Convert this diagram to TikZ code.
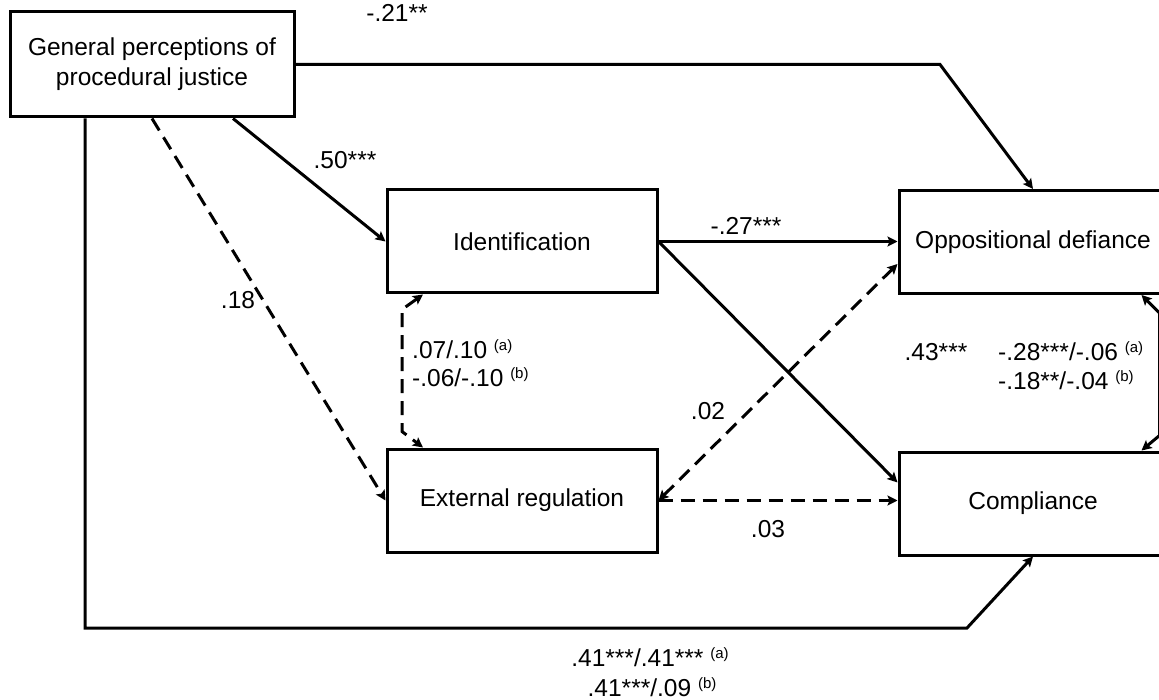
\documentclass[tikz,border=0pt]{standalone}
\usepackage{fontspec}
\setmainfont{Liberation Sans}
\usepackage{tikz}
\usetikzlibrary{arrows.meta}

\newcommand{\nt}[1]{\space\raisebox{8pt}{\fontsize{15}{15}\selectfont(#1)}}

\begin{document}
\begin{tikzpicture}[x=1pt,y=-1pt,
  >={Stealth[length=10pt,width=10pt,inset=2pt]},
  box/.style={draw,line width=3pt,minimum width=270pt,minimum height=103pt,
    inner sep=0pt,align=center,font=\fontsize{24.5}{30}\selectfont},
  arr/.style={line width=3pt,->},
  darr/.style={arr,dash pattern=on 14pt off 8pt},
  lab/.style={font=\fontsize{24.5}{30}\selectfont,inner sep=0pt,anchor=base}]

  \useasboundingbox (0,0) rectangle (1159,700);

  \node[box,minimum width=284pt,minimum height=105pt] (gp) at (152,64.5)
    {General perceptions of\\procedural justice};
  \node[box] (ident) at (522,241.5) {Identification};
  \node[box] (ext) at (522,500.5) {External regulation};
  \node[box,minimum width=268pt] (opp) at (1033,242) {Oppositional defiance};
  \node[box,minimum width=268pt] (comp) at (1033,503.5) {Compliance};

  \coordinate (topbend) at (940,64.5);
  \coordinate (botbend) at (967,628);

  % direct paths
  \draw[arr] (gp.east) -- (topbend) -- (opp.north);
  \draw[arr] ([xshift=-67pt]gp.south) |- (botbend) -- (comp.south);
  \draw[arr] ([xshift=81pt]gp.south) -- (ident.west);
  \draw[darr] (gp.south) -- (ext.west);

  % mediators
  \draw[arr] (ident.east) -- (ident.east -| opp.west);
  \draw[arr] (ident.east) -- ([yshift=21pt]comp.west);
  \draw[darr,<->] (ext.east) -- ([yshift=-22pt]opp.west);
  \draw[darr] (ext.east) -- (ext.east -| comp.west);

  % covariances
  \draw[darr,<->] ([xshift=-99pt]ident.south) -- ++(-21,15)
    -- ([xshift=-120pt,yshift=16pt]ext.north) -- ([xshift=-99pt]ext.north);
  \draw[arr,<->] ([xshift=-27pt]opp.south east) -- ++(18,18)
    -- ([xshift=-9pt,yshift=15pt]comp.north east) -- ([xshift=-27pt]comp.north east);

  \node[lab] (l21) at (397,22) {-.21**};
  \node[lab] (l50) at (345,169) {.50***};
  \node[lab] (l18) at (238,309) {.18};
  \node[lab] (l27) at (746,235) {-.27***};
  \node[lab] (l43) at (936,361) {.43***};
  \node[lab] (l02) at (708,419) {.02};
  \node[lab] (l03) at (768,537) {.03};
  \node[lab,anchor=base west] (lida) at (412,359) {.07/.10\nt{a}};
  \node[lab,anchor=base west] (lidb) at (412,387) {-.06/-.10\nt{b}};
  \node[lab,anchor=base west] (lopa) at (998,361) {-.28***/-.06\nt{a}};
  \node[lab,anchor=base west] (lopb) at (998,389) {-.18**/-.04\nt{b}};
  \node[lab] (l41a) at (650,666) {.41***/.41***\nt{a}};
  \node[lab] (l41b) at (652,696) {.41***/.09\nt{b}};

\end{tikzpicture}
\end{document}
